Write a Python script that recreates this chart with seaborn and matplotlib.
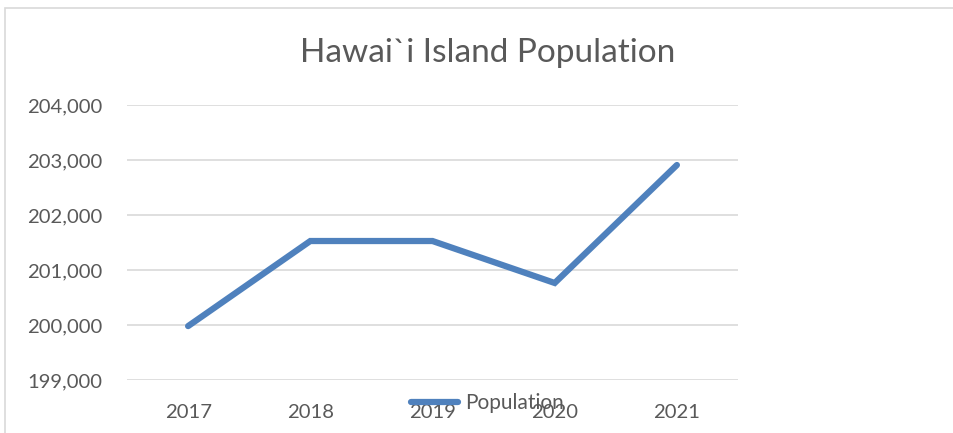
import matplotlib
matplotlib.use("Agg")
import matplotlib.pyplot as plt
import seaborn as sns
import pandas as pd
from matplotlib.patches import Rectangle
from matplotlib.lines import Line2D

years = ["2017", "2018", "2019", "2020", "2021"]
population = [199980, 201527, 201527, 200764, 202909]
yticks = [199000, 200000, 201000, 202000, 203000, 204000]

sns.set_theme(style="white")
plt.rcParams['font.family'] = ['Lato', 'DejaVu Sans']

df = pd.DataFrame({"Year": years, "Population": population})

fig = plt.figure(figsize=(9.54, 4.33), dpi=100)
ax = fig.add_axes([127/954, 1-380/433, (738-127)/954, (380-105)/433])

# chart border
fig.patches.append(Rectangle((5/954, -0.1), 1.2, 1.1 - 8/433, transform=fig.transFigure,
                             fill=False, edgecolor="#D9D9D9", linewidth=1.2))

sns.lineplot(data=df, x="Year", y="Population", ax=ax, color="#4F81BD",
             linewidth=4.5, solid_capstyle="round", solid_joinstyle="miter", legend=False)

ax.set_ylim(199000, 204000)
ax.set_xlim(-0.5, 4.5)
ax.set_yticks(yticks)
ax.set_yticklabels([f"{v:,}" for v in yticks])
ax.grid(axis="y", color="#D9D9D9", linewidth=1.2)
ax.grid(axis="x", visible=False)
for s in ax.spines.values():
    s.set_visible(False)
ax.tick_params(axis="both", length=0, labelsize=14.6, colors="#595959")
ax.tick_params(axis="y", pad=18)
ax.tick_params(axis="x", pad=17)
ax.set_xlabel("")
ax.set_ylabel("")

fig.text(488/954, 1-53/433, "Hawai`i Island Population", ha="center", va="center",
         fontsize=24, color="#595959")

handle = Line2D([], [], color="#4F81BD", linewidth=4.5, solid_capstyle="round")
leg = fig.legend([handle], ["Population"], loc="center", bbox_to_anchor=(487/954, 1-403/433),
                 frameon=False, fontsize=15, handlelength=2.3, handletextpad=0.3,
                 labelcolor="#595959")

fig.savefig("out.png", dpi=100)
